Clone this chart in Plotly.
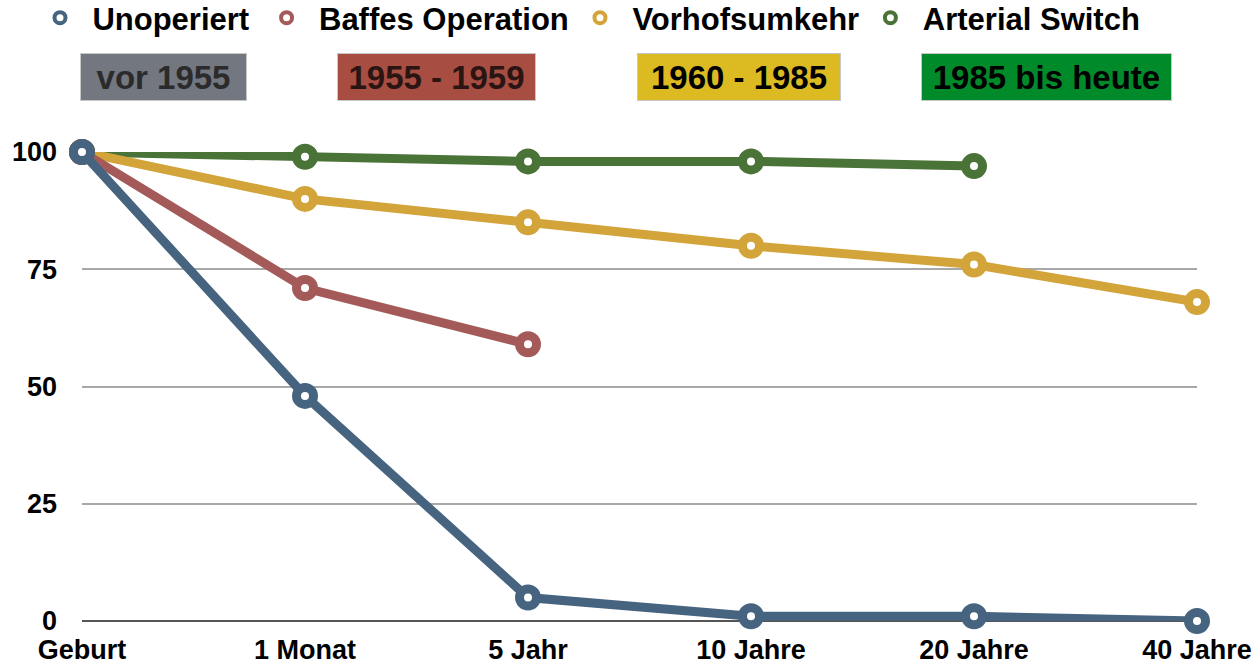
import plotly.graph_objects as go

categories = ["Geburt", "1 Monat", "5 Jahr", "10 Jahre", "20 Jahre", "40 Jahre"]
y_ticks = [0, 25, 50, 75, 100]

series_names = ["Unoperiert", "Baffes Operation", "Vorhofsumkehr", "Arterial Switch"]
unoperiert = [100, 48, 5, 1, 1, 0]
baffes = [100, 71, 59]
vorhof = [100, 90, 85, 80, 76, 68]
arterial = [100, 99, 98, 98, 97]

era_labels = ["vor 1955", "1955 - 1959", "1960 - 1985", "1985 bis heute"]

colors = {
    "Unoperiert": "#46647f",
    "Baffes Operation": "#a55a5a",
    "Vorhofsumkehr": "#d2a43a",
    "Arterial Switch": "#4a7337",
}
era_bg = ["#737780", "#a84d42", "#dcbb22", "#008a2a"]
era_fg = ["#2b2b2b", "#2a1512", "#000000", "#000000"]

FONT = "Liberation Sans"

fig = go.Figure()

# Legend-only entries (ring markers); thin spaces tune the spacing
trails = ["\u2009\u2009", "\u2009", "\u2009", ""]
for name, trail in zip(series_names, trails):
    fig.add_trace(go.Scatter(
        x=[None], y=[None], mode="markers", name="\u2009\u2009" + name + trail,
        marker=dict(symbol="circle", size=11, color="white",
                    line=dict(color=colors[name], width=4)),
        showlegend=True,
    ))

data = {
    "Unoperiert": unoperiert,
    "Baffes Operation": baffes,
    "Vorhofsumkehr": vorhof,
    "Arterial Switch": arterial,
}
for name in reversed(series_names):
    vals = data[name]
    fig.add_trace(go.Scatter(
        x=categories[:len(vals)], y=vals, mode="lines+markers", name=name,
        line=dict(color=colors[name], width=9),
        marker=dict(symbol="circle", size=17, color="white",
                    line=dict(color=colors[name], width=9)),
        showlegend=False, cliponaxis=False,
    ))

# Era boxes
box_centers_px = [163.5, 436.5, 739, 1046.5]
box_widths = [167, 199, 204, 251]
L, R, T, B = 82, 62, 152, 44
pw = 1259 - L - R
ph = 665 - T - B
for lab, cx, w, bg, fg in zip(era_labels, box_centers_px, box_widths, era_bg, era_fg):
    fig.add_annotation(
        x=(cx - L) / pw, y=(665 - B - 77) / ph, xref="paper", yref="paper",
        xanchor="center", yanchor="middle", showarrow=False,
        text=lab, width=w - 2, height=46, bgcolor=bg,
        bordercolor="#c8c8c8", borderwidth=1, borderpad=0,
        font=dict(family=FONT, size=33, color=fg, weight="bold"),
    )

fig.update_layout(
    width=1259, height=665,
    margin=dict(l=L, r=R, t=T, b=B, autoexpand=False),
    paper_bgcolor="white", plot_bgcolor="white",
    font=dict(family=FONT, size=27, color="black", weight="bold"),
    showlegend=True,
    legend=dict(
        orientation="h", x=(40 - L) / pw, xanchor="left",
        y=(665 - B - 18) / ph, yanchor="middle",
        font=dict(family=FONT, size=31, color="black", weight="bold"),
        bgcolor="rgba(0,0,0,0)", itemclick=False,
    ),
    xaxis=dict(
        type="category", categoryorder="array", categoryarray=categories,
        range=[0, len(categories) - 1], showgrid=False, zeroline=False,
        showline=False, ticks="", ticklabelstandoff=10,
        tickfont=dict(family=FONT, size=27, color="black", weight="bold"),
        fixedrange=True,
    ),
    yaxis=dict(
        range=[0, 100], tickvals=y_ticks, ticktext=[str(v) for v in y_ticks],
        showgrid=True, gridcolor="#a8a8a8", gridwidth=1.5,
        zeroline=True, zerolinecolor="#555555", zerolinewidth=2,
        showline=False, ticks="", ticklabelstandoff=24,
        tickfont=dict(family=FONT, size=27, color="black", weight="bold"),
        fixedrange=True,
    ),
)

fig.write_html("out.html", config={"displayModeBar": False},
               post_script="document.body.style.margin='0';")
